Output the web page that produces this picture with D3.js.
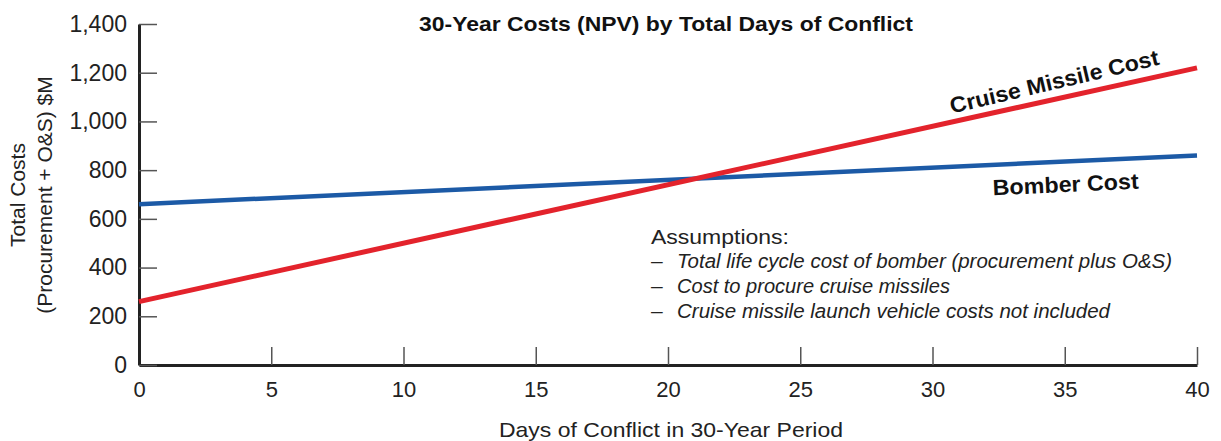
<!DOCTYPE html>
<html>
<head>
<meta charset="utf-8">
<script src="https://cdn.jsdelivr.net/npm/d3@7"></script>
<style>
  body { margin: 0; background: #fff; }
  svg { font-family: "Liberation Sans", Arial, sans-serif; }
</style>
</head>
<body>
<svg id="chart" width="1221" height="441"></svg>
<script>
// data
const days = [0, 40]
const cruiseCost = [260, 1220]
const bomberCost = [660, 860]
const yTicks = [0, 200, 400, 600, 800, 1000, 1200, 1400]
const xTicks = [0, 5, 10, 15, 20, 25, 30, 35, 40]
const assumptions = [
  'Total life cycle cost of bomber (procurement plus O&S)',
  'Cost to procure cruise missiles',
  'Cruise missile launch vehicle costs not included'
]

const svg = d3.select('#chart')
const width = +svg.attr('width')
const height = +svg.attr('height')
const margin = { top: 24, right: 24, bottom: 76, left: 139 }

const red = '#e3232c'
const blue = '#1c5aa6'
const axisColor = '#222'

const xScale = d3.scaleLinear()
  .domain([0, 40])
  .range([margin.left, width - margin.right])

const yScale = d3.scaleLinear()
  .domain([0, 1400])
  .range([height - margin.bottom, margin.top])

// axes: ticks point inward
const xAxis = svg.append('g')
  .attr('transform', `translate(0, ${yScale(0)})`)
  .call(d3.axisBottom(xScale).tickValues(xTicks).tickSize(-18).tickPadding(28).tickSizeOuter(0))

const yAxis = svg.append('g')
  .attr('transform', `translate(${xScale(0)}, 0)`)
  .call(d3.axisLeft(yScale).tickValues(yTicks).tickSize(-18).tickPadding(30).tickSizeOuter(0)
    .tickFormat(d3.format(',')))

svg.selectAll('.tick line').attr('stroke', '#555').attr('stroke-width', 1.5)
svg.selectAll('path.domain').attr('stroke', axisColor).attr('stroke-width', 3)
svg.selectAll('.tick text')
  .style('font-size', '22px')
  .attr('fill', '#222')
xAxis.selectAll('.tick text').attr('dy', '0.2em')
yAxis.selectAll('.tick text').attr('x', -12).style('font-size', '23px')

// lines
const line = (vals) => d3.line()
  .x((d, i) => xScale(days[i]))
  .y(d => yScale(d))(vals)

svg.append('path')
  .attr('d', line(bomberCost))
  .attr('fill', 'none')
  .attr('stroke', blue)
  .attr('stroke-width', 4.5)

svg.append('path')
  .attr('d', line(cruiseCost))
  .attr('fill', 'none')
  .attr('stroke', red)
  .attr('stroke-width', 5)

// line labels
const angleOf = (vals) => Math.atan2(yScale(vals[1]) - yScale(vals[0]), xScale(days[1]) - xScale(days[0])) * 180 / Math.PI

svg.append('text')
  .attr('transform', `translate(1056, 89) rotate(${angleOf(cruiseCost) - 0.8})`)
  .attr('text-anchor', 'middle')
  .style('font-size', '22px')
  .style('font-weight', 'bold')
  .attr('fill', '#111')
  .attr('textLength', 214)
  .attr('lengthAdjust', 'spacingAndGlyphs')
  .text('Cruise Missile Cost')

svg.append('text')
  .attr('transform', `translate(1066, 192) rotate(${angleOf(bomberCost)})`)
  .attr('text-anchor', 'middle')
  .style('font-size', '22px')
  .style('font-weight', 'bold')
  .attr('fill', '#111')
  .attr('textLength', 146)
  .attr('lengthAdjust', 'spacingAndGlyphs')
  .text('Bomber Cost')

// title
svg.append('text')
  .attr('x', 666)
  .attr('y', 31)
  .attr('text-anchor', 'middle')
  .style('font-size', '21px')
  .style('font-weight', 'bold')
  .attr('fill', '#111')
  .attr('textLength', 494)
  .attr('lengthAdjust', 'spacingAndGlyphs')
  .text('30-Year Costs (NPV) by Total Days of Conflict')

// axis titles
svg.append('text')
  .attr('x', 671)
  .attr('y', 437)
  .attr('text-anchor', 'middle')
  .style('font-size', '21px')
  .attr('fill', '#222')
  .attr('textLength', 344)
  .attr('lengthAdjust', 'spacingAndGlyphs')
  .text('Days of Conflict in 30-Year Period')

const yTitle = svg.append('text')
  .attr('transform', 'translate(25, 195) rotate(-90)')
  .attr('text-anchor', 'middle')
  .style('font-size', '21px')
  .attr('fill', '#222')
yTitle.append('tspan').attr('x', 0).attr('y', 0).text('Total Costs')
yTitle.append('tspan').attr('x', 0).attr('y', 27).text('(Procurement + O&S) $M')

// assumptions note
svg.append('text')
  .attr('x', 651)
  .attr('y', 244)
  .style('font-size', '21px')
  .attr('fill', '#222')
  .attr('textLength', 138)
  .attr('lengthAdjust', 'spacingAndGlyphs')
  .text('Assumptions:')

const noteWidths = [495, 273, 433]
assumptions.forEach((t, i) => {
  const y = 268 + i * 25
  svg.append('text')
    .attr('x', 651)
    .attr('y', y)
    .style('font-size', '21px')
    .attr('fill', '#222')
    .text('–')
  svg.append('text')
    .attr('x', 677)
    .attr('y', y)
    .style('font-size', '19.5px')
    .style('font-style', 'italic')
    .attr('fill', '#222')
    .attr('textLength', noteWidths[i])
    .attr('lengthAdjust', 'spacingAndGlyphs')
    .text(t)
})
</script>
</body>
</html>
